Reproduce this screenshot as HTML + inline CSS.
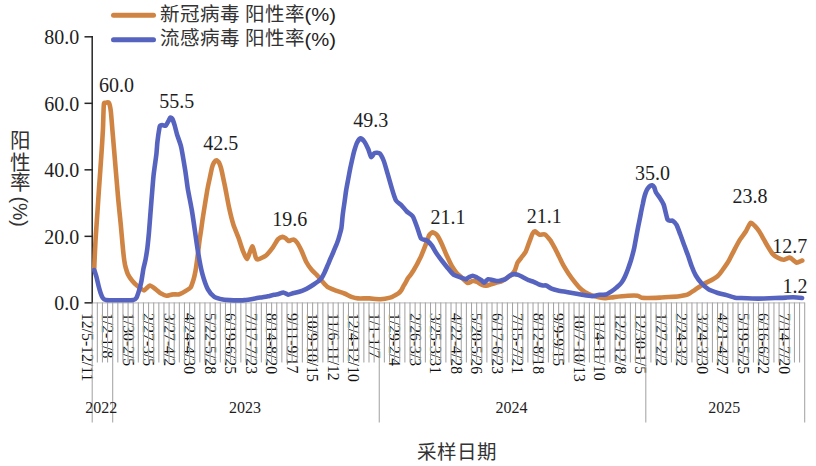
<!DOCTYPE html><html lang="zh-CN"><head><meta charset="utf-8"><style>html,body{margin:0;padding:0;background:#fff;}svg{display:block;} .n{font-family:"Liberation Serif",serif;fill:#1e1e1e;} .x{font-family:"Liberation Serif",serif;fill:#111;} .p{font-family:"Liberation Sans",sans-serif;fill:#1e1e1e;} .c{font-family:"Liberation Sans",sans-serif;fill:#333;}</style></head><body>
<svg width="816" height="466" viewBox="0 0 816 466">
<line x1="92.2" y1="302.8" x2="804.7" y2="302.8" stroke="#c4c4c4" stroke-width="1.3"/>
<g stroke="#262626" stroke-width="1.5" fill="none">
<line x1="92.2" y1="36.1" x2="92.2" y2="303.6"/>
<line x1="84.5" y1="302.85" x2="92.9" y2="302.85"/>
<line x1="84.5" y1="236.34" x2="92.9" y2="236.34"/>
<line x1="84.5" y1="169.83" x2="92.9" y2="169.83"/>
<line x1="84.5" y1="103.32" x2="92.9" y2="103.32"/>
<line x1="84.5" y1="36.81" x2="92.9" y2="36.81"/>
</g>
<text class="n" x="79.2" y="310.25" font-size="20.00" text-anchor="end">0.0</text>
<text class="n" x="79.2" y="243.74" font-size="20.00" text-anchor="end">20.0</text>
<text class="n" x="79.2" y="177.23" font-size="20.00" text-anchor="end">40.0</text>
<text class="n" x="79.2" y="110.72" font-size="20.00" text-anchor="end">60.0</text>
<text class="n" x="79.2" y="44.21" font-size="20.00" text-anchor="end">80.0</text>
<text class="x" font-size="15.70" transform="translate(87.26 313.00) rotate(90)" x="0" y="0" dominant-baseline="central">12/5-12/11</text>
<text class="x" font-size="15.70" transform="translate(107.77 313.00) rotate(90)" x="0" y="0" dominant-baseline="central">1/2-1/8</text>
<text class="x" font-size="15.70" transform="translate(128.27 313.00) rotate(90)" x="0" y="0" dominant-baseline="central">1/30-2/5</text>
<text class="x" font-size="15.70" transform="translate(148.77 313.00) rotate(90)" x="0" y="0" dominant-baseline="central">2/27-3/5</text>
<text class="x" font-size="15.70" transform="translate(169.28 313.00) rotate(90)" x="0" y="0" dominant-baseline="central">3/27-4/2</text>
<text class="x" font-size="15.70" transform="translate(189.78 313.00) rotate(90)" x="0" y="0" dominant-baseline="central">4/24-4/30</text>
<text class="x" font-size="15.70" transform="translate(210.28 313.00) rotate(90)" x="0" y="0" dominant-baseline="central">5/22-5/28</text>
<text class="x" font-size="15.70" transform="translate(230.79 313.00) rotate(90)" x="0" y="0" dominant-baseline="central">6/19-6/25</text>
<text class="x" font-size="15.70" transform="translate(251.29 313.00) rotate(90)" x="0" y="0" dominant-baseline="central">7/17-7/23</text>
<text class="x" font-size="15.70" transform="translate(271.80 313.00) rotate(90)" x="0" y="0" dominant-baseline="central">8/14-8/20</text>
<text class="x" font-size="15.70" transform="translate(292.30 313.00) rotate(90)" x="0" y="0" dominant-baseline="central">9/11-9/17</text>
<text class="x" font-size="15.70" transform="translate(312.80 313.00) rotate(90)" x="0" y="0" dominant-baseline="central">10/9-10/15</text>
<text class="x" font-size="15.70" transform="translate(333.31 313.00) rotate(90)" x="0" y="0" dominant-baseline="central">11/6-11/12</text>
<text class="x" font-size="15.70" transform="translate(353.81 313.00) rotate(90)" x="0" y="0" dominant-baseline="central">12/4-12/10</text>
<text class="x" font-size="15.70" transform="translate(374.31 313.00) rotate(90)" x="0" y="0" dominant-baseline="central">1/1-1/7</text>
<text class="x" font-size="15.70" transform="translate(394.82 313.00) rotate(90)" x="0" y="0" dominant-baseline="central">1/29-2/4</text>
<text class="x" font-size="15.70" transform="translate(415.32 313.00) rotate(90)" x="0" y="0" dominant-baseline="central">2/26-3/3</text>
<text class="x" font-size="15.70" transform="translate(435.82 313.00) rotate(90)" x="0" y="0" dominant-baseline="central">3/25-3/31</text>
<text class="x" font-size="15.70" transform="translate(456.33 313.00) rotate(90)" x="0" y="0" dominant-baseline="central">4/22-4/28</text>
<text class="x" font-size="15.70" transform="translate(476.83 313.00) rotate(90)" x="0" y="0" dominant-baseline="central">5/20-5/26</text>
<text class="x" font-size="15.70" transform="translate(497.33 313.00) rotate(90)" x="0" y="0" dominant-baseline="central">6/17-6/23</text>
<text class="x" font-size="15.70" transform="translate(517.84 313.00) rotate(90)" x="0" y="0" dominant-baseline="central">7/15-7/21</text>
<text class="x" font-size="15.70" transform="translate(538.34 313.00) rotate(90)" x="0" y="0" dominant-baseline="central">8/12-8/18</text>
<text class="x" font-size="15.70" transform="translate(558.85 313.00) rotate(90)" x="0" y="0" dominant-baseline="central">9/9-9/15</text>
<text class="x" font-size="15.70" transform="translate(579.35 313.00) rotate(90)" x="0" y="0" dominant-baseline="central">10/7-10/13</text>
<text class="x" font-size="15.70" transform="translate(599.85 313.00) rotate(90)" x="0" y="0" dominant-baseline="central">11/4-11/10</text>
<text class="x" font-size="15.70" transform="translate(620.36 313.00) rotate(90)" x="0" y="0" dominant-baseline="central">12/2-12/8</text>
<text class="x" font-size="15.70" transform="translate(640.86 313.00) rotate(90)" x="0" y="0" dominant-baseline="central">12/30-1/5</text>
<text class="x" font-size="15.70" transform="translate(661.36 313.00) rotate(90)" x="0" y="0" dominant-baseline="central">1/27-2/2</text>
<text class="x" font-size="15.70" transform="translate(681.87 313.00) rotate(90)" x="0" y="0" dominant-baseline="central">2/24-3/2</text>
<text class="x" font-size="15.70" transform="translate(702.37 313.00) rotate(90)" x="0" y="0" dominant-baseline="central">3/24-3/30</text>
<text class="x" font-size="15.70" transform="translate(722.87 313.00) rotate(90)" x="0" y="0" dominant-baseline="central">4/21-4/27</text>
<text class="x" font-size="15.70" transform="translate(743.38 313.00) rotate(90)" x="0" y="0" dominant-baseline="central">5/19-5/25</text>
<text class="x" font-size="15.70" transform="translate(763.88 313.00) rotate(90)" x="0" y="0" dominant-baseline="central">6/16-6/22</text>
<text class="x" font-size="15.70" transform="translate(784.39 313.00) rotate(90)" x="0" y="0" dominant-baseline="central">7/14-7/20</text>
<g stroke="#a4a4a4" stroke-width="1.05"><line x1="92.20" y1="302.5" x2="92.20" y2="422.5"/><line x1="97.33" y1="302.5" x2="97.33" y2="362.5"/><line x1="102.45" y1="302.5" x2="102.45" y2="362.5"/><line x1="107.58" y1="302.5" x2="107.58" y2="362.5"/><line x1="112.70" y1="302.5" x2="112.70" y2="422.5"/><line x1="117.83" y1="302.5" x2="117.83" y2="362.5"/><line x1="122.96" y1="302.5" x2="122.96" y2="362.5"/><line x1="128.08" y1="302.5" x2="128.08" y2="362.5"/><line x1="133.21" y1="302.5" x2="133.21" y2="362.5"/><line x1="138.33" y1="302.5" x2="138.33" y2="362.5"/><line x1="143.46" y1="302.5" x2="143.46" y2="362.5"/><line x1="148.58" y1="302.5" x2="148.58" y2="362.5"/><line x1="153.71" y1="302.5" x2="153.71" y2="362.5"/><line x1="158.84" y1="302.5" x2="158.84" y2="362.5"/><line x1="163.96" y1="302.5" x2="163.96" y2="362.5"/><line x1="169.09" y1="302.5" x2="169.09" y2="362.5"/><line x1="174.21" y1="302.5" x2="174.21" y2="362.5"/><line x1="179.34" y1="302.5" x2="179.34" y2="362.5"/><line x1="184.47" y1="302.5" x2="184.47" y2="362.5"/><line x1="189.59" y1="302.5" x2="189.59" y2="362.5"/><line x1="194.72" y1="302.5" x2="194.72" y2="362.5"/><line x1="199.84" y1="302.5" x2="199.84" y2="362.5"/><line x1="204.97" y1="302.5" x2="204.97" y2="362.5"/><line x1="210.10" y1="302.5" x2="210.10" y2="362.5"/><line x1="215.22" y1="302.5" x2="215.22" y2="362.5"/><line x1="220.35" y1="302.5" x2="220.35" y2="362.5"/><line x1="225.47" y1="302.5" x2="225.47" y2="362.5"/><line x1="230.60" y1="302.5" x2="230.60" y2="362.5"/><line x1="235.73" y1="302.5" x2="235.73" y2="362.5"/><line x1="240.85" y1="302.5" x2="240.85" y2="362.5"/><line x1="245.98" y1="302.5" x2="245.98" y2="362.5"/><line x1="251.10" y1="302.5" x2="251.10" y2="362.5"/><line x1="256.23" y1="302.5" x2="256.23" y2="362.5"/><line x1="261.35" y1="302.5" x2="261.35" y2="362.5"/><line x1="266.48" y1="302.5" x2="266.48" y2="362.5"/><line x1="271.61" y1="302.5" x2="271.61" y2="362.5"/><line x1="276.73" y1="302.5" x2="276.73" y2="362.5"/><line x1="281.86" y1="302.5" x2="281.86" y2="362.5"/><line x1="286.98" y1="302.5" x2="286.98" y2="362.5"/><line x1="292.11" y1="302.5" x2="292.11" y2="362.5"/><line x1="297.24" y1="302.5" x2="297.24" y2="362.5"/><line x1="302.36" y1="302.5" x2="302.36" y2="362.5"/><line x1="307.49" y1="302.5" x2="307.49" y2="362.5"/><line x1="312.61" y1="302.5" x2="312.61" y2="362.5"/><line x1="317.74" y1="302.5" x2="317.74" y2="362.5"/><line x1="322.87" y1="302.5" x2="322.87" y2="362.5"/><line x1="327.99" y1="302.5" x2="327.99" y2="362.5"/><line x1="333.12" y1="302.5" x2="333.12" y2="362.5"/><line x1="338.24" y1="302.5" x2="338.24" y2="362.5"/><line x1="343.37" y1="302.5" x2="343.37" y2="362.5"/><line x1="348.49" y1="302.5" x2="348.49" y2="362.5"/><line x1="353.62" y1="302.5" x2="353.62" y2="362.5"/><line x1="358.75" y1="302.5" x2="358.75" y2="362.5"/><line x1="363.87" y1="302.5" x2="363.87" y2="362.5"/><line x1="369.00" y1="302.5" x2="369.00" y2="362.5"/><line x1="374.12" y1="302.5" x2="374.12" y2="362.5"/><line x1="379.25" y1="302.5" x2="379.25" y2="422.5"/><line x1="384.38" y1="302.5" x2="384.38" y2="362.5"/><line x1="389.50" y1="302.5" x2="389.50" y2="362.5"/><line x1="394.63" y1="302.5" x2="394.63" y2="362.5"/><line x1="399.75" y1="302.5" x2="399.75" y2="362.5"/><line x1="404.88" y1="302.5" x2="404.88" y2="362.5"/><line x1="410.01" y1="302.5" x2="410.01" y2="362.5"/><line x1="415.13" y1="302.5" x2="415.13" y2="362.5"/><line x1="420.26" y1="302.5" x2="420.26" y2="362.5"/><line x1="425.38" y1="302.5" x2="425.38" y2="362.5"/><line x1="430.51" y1="302.5" x2="430.51" y2="362.5"/><line x1="435.64" y1="302.5" x2="435.64" y2="362.5"/><line x1="440.76" y1="302.5" x2="440.76" y2="362.5"/><line x1="445.89" y1="302.5" x2="445.89" y2="362.5"/><line x1="451.01" y1="302.5" x2="451.01" y2="362.5"/><line x1="456.14" y1="302.5" x2="456.14" y2="362.5"/><line x1="461.26" y1="302.5" x2="461.26" y2="362.5"/><line x1="466.39" y1="302.5" x2="466.39" y2="362.5"/><line x1="471.52" y1="302.5" x2="471.52" y2="362.5"/><line x1="476.64" y1="302.5" x2="476.64" y2="362.5"/><line x1="481.77" y1="302.5" x2="481.77" y2="362.5"/><line x1="486.89" y1="302.5" x2="486.89" y2="362.5"/><line x1="492.02" y1="302.5" x2="492.02" y2="362.5"/><line x1="497.15" y1="302.5" x2="497.15" y2="362.5"/><line x1="502.27" y1="302.5" x2="502.27" y2="362.5"/><line x1="507.40" y1="302.5" x2="507.40" y2="362.5"/><line x1="512.52" y1="302.5" x2="512.52" y2="362.5"/><line x1="517.65" y1="302.5" x2="517.65" y2="362.5"/><line x1="522.78" y1="302.5" x2="522.78" y2="362.5"/><line x1="527.90" y1="302.5" x2="527.90" y2="362.5"/><line x1="533.03" y1="302.5" x2="533.03" y2="362.5"/><line x1="538.15" y1="302.5" x2="538.15" y2="362.5"/><line x1="543.28" y1="302.5" x2="543.28" y2="362.5"/><line x1="548.41" y1="302.5" x2="548.41" y2="362.5"/><line x1="553.53" y1="302.5" x2="553.53" y2="362.5"/><line x1="558.66" y1="302.5" x2="558.66" y2="362.5"/><line x1="563.78" y1="302.5" x2="563.78" y2="362.5"/><line x1="568.91" y1="302.5" x2="568.91" y2="362.5"/><line x1="574.03" y1="302.5" x2="574.03" y2="362.5"/><line x1="579.16" y1="302.5" x2="579.16" y2="362.5"/><line x1="584.29" y1="302.5" x2="584.29" y2="362.5"/><line x1="589.41" y1="302.5" x2="589.41" y2="362.5"/><line x1="594.54" y1="302.5" x2="594.54" y2="362.5"/><line x1="599.66" y1="302.5" x2="599.66" y2="362.5"/><line x1="604.79" y1="302.5" x2="604.79" y2="362.5"/><line x1="609.92" y1="302.5" x2="609.92" y2="362.5"/><line x1="615.04" y1="302.5" x2="615.04" y2="362.5"/><line x1="620.17" y1="302.5" x2="620.17" y2="362.5"/><line x1="625.29" y1="302.5" x2="625.29" y2="362.5"/><line x1="630.42" y1="302.5" x2="630.42" y2="362.5"/><line x1="635.55" y1="302.5" x2="635.55" y2="362.5"/><line x1="640.67" y1="302.5" x2="640.67" y2="362.5"/><line x1="645.80" y1="302.5" x2="645.80" y2="422.5"/><line x1="650.92" y1="302.5" x2="650.92" y2="362.5"/><line x1="656.05" y1="302.5" x2="656.05" y2="362.5"/><line x1="661.17" y1="302.5" x2="661.17" y2="362.5"/><line x1="666.30" y1="302.5" x2="666.30" y2="362.5"/><line x1="671.43" y1="302.5" x2="671.43" y2="362.5"/><line x1="676.55" y1="302.5" x2="676.55" y2="362.5"/><line x1="681.68" y1="302.5" x2="681.68" y2="362.5"/><line x1="686.80" y1="302.5" x2="686.80" y2="362.5"/><line x1="691.93" y1="302.5" x2="691.93" y2="362.5"/><line x1="697.06" y1="302.5" x2="697.06" y2="362.5"/><line x1="702.18" y1="302.5" x2="702.18" y2="362.5"/><line x1="707.31" y1="302.5" x2="707.31" y2="362.5"/><line x1="712.43" y1="302.5" x2="712.43" y2="362.5"/><line x1="717.56" y1="302.5" x2="717.56" y2="362.5"/><line x1="722.69" y1="302.5" x2="722.69" y2="362.5"/><line x1="727.81" y1="302.5" x2="727.81" y2="362.5"/><line x1="732.94" y1="302.5" x2="732.94" y2="362.5"/><line x1="738.06" y1="302.5" x2="738.06" y2="362.5"/><line x1="743.19" y1="302.5" x2="743.19" y2="362.5"/><line x1="748.32" y1="302.5" x2="748.32" y2="362.5"/><line x1="753.44" y1="302.5" x2="753.44" y2="362.5"/><line x1="758.57" y1="302.5" x2="758.57" y2="362.5"/><line x1="763.69" y1="302.5" x2="763.69" y2="362.5"/><line x1="768.82" y1="302.5" x2="768.82" y2="362.5"/><line x1="773.94" y1="302.5" x2="773.94" y2="362.5"/><line x1="779.07" y1="302.5" x2="779.07" y2="362.5"/><line x1="784.20" y1="302.5" x2="784.20" y2="362.5"/><line x1="789.32" y1="302.5" x2="789.32" y2="362.5"/><line x1="794.45" y1="302.5" x2="794.45" y2="362.5"/><line x1="799.57" y1="302.5" x2="799.57" y2="362.5"/><line x1="804.70" y1="302.5" x2="804.70" y2="422.5"/></g>
<text class="n" x="101.35" y="412.5" font-size="16.00" text-anchor="middle">2022</text>
<text class="n" x="244.88" y="412.5" font-size="16.00" text-anchor="middle">2023</text>
<text class="n" x="511.42" y="412.5" font-size="16.00" text-anchor="middle">2024</text>
<text class="n" x="724.15" y="412.5" font-size="16.00" text-anchor="middle">2025</text>
<path d="M94.3 268.0 C94.3 266.7 94.7 257.3 94.8 255.0 C94.9 252.7 95.2 247.5 95.3 245.0 C95.4 242.5 95.8 235.5 96.2 230.0 C96.6 224.5 98.4 198.0 98.9 190.0 C99.5 182.0 101.3 156.0 101.7 150.0 C102.1 144.0 102.7 133.8 102.9 130.0 C103.1 126.2 103.4 114.7 103.5 112.0 C103.6 109.3 103.7 104.3 104.0 103.4 C104.3 102.5 106.0 102.6 106.5 102.6 C107.0 102.5 108.6 102.0 109.0 102.9 C109.4 103.8 110.6 109.3 110.9 112.0 C111.2 114.7 112.1 126.2 112.4 130.0 C112.7 133.8 113.5 143.0 114.1 150.0 C114.7 157.0 117.6 192.5 118.3 200.0 C119.0 207.5 120.4 220.5 120.8 225.0 C121.2 229.5 122.3 241.5 122.6 245.0 C122.9 248.5 123.9 257.7 124.2 260.0 C124.5 262.3 125.4 266.6 125.8 268.0 C126.2 269.4 127.3 273.0 127.9 274.3 C128.5 275.6 131.2 279.5 132.2 280.7 C133.2 281.9 136.3 285.1 137.5 286.1 C138.7 287.1 142.8 290.5 144.0 290.4 C145.2 290.3 148.7 285.6 149.9 285.5 C151.1 285.4 154.7 288.5 155.8 289.3 C156.9 290.1 160.0 293.0 161.1 293.6 C162.2 294.2 165.3 295.7 166.5 295.8 C167.7 295.9 171.6 294.5 172.9 294.4 C174.2 294.2 178.0 294.7 179.3 294.3 C180.6 293.9 184.7 291.6 185.8 290.9 C186.9 290.2 189.8 288.6 190.6 287.5 C191.4 286.4 192.9 281.6 193.4 280.0 C193.9 278.4 195.1 273.1 195.5 271.0 C195.9 268.9 196.8 262.3 197.2 259.4 C197.6 256.5 198.9 245.4 199.3 242.2 C199.7 239.0 201.1 230.3 201.5 227.2 C201.9 224.1 203.2 215.2 203.8 211.5 C204.4 207.8 206.7 193.3 207.3 190.0 C207.9 186.7 209.3 180.2 209.8 178.0 C210.3 175.8 211.5 169.6 211.9 168.0 C212.3 166.4 213.5 163.3 214.0 162.5 C214.5 161.7 216.0 160.4 216.5 160.4 C217.0 160.4 218.6 161.7 219.0 162.5 C219.4 163.3 220.6 166.6 221.0 168.0 C221.4 169.4 222.6 175.0 223.0 177.0 C223.4 179.0 224.7 185.0 225.3 188.0 C225.9 191.0 228.2 203.6 229.0 207.3 C229.8 211.0 232.5 221.9 233.5 225.0 C234.5 228.1 237.7 235.3 238.6 237.9 C239.5 240.5 242.0 248.7 242.9 250.8 C243.8 252.9 246.3 259.3 247.2 258.9 C248.1 258.5 251.4 246.5 252.3 246.4 C253.2 246.3 255.2 256.3 255.8 257.6 C256.4 258.9 257.3 259.5 258.3 259.3 C259.3 259.1 264.5 256.7 266.0 255.5 C267.5 254.3 271.7 248.9 272.9 247.3 C274.1 245.7 277.1 240.2 278.1 239.2 C279.1 238.2 281.9 237.0 282.6 236.9 C283.3 236.8 284.9 237.8 285.5 238.2 C286.1 238.6 288.0 240.8 288.6 241.0 C289.2 241.2 291.0 240.1 291.5 240.0 C292.0 239.9 293.4 239.4 294.0 239.7 C294.6 239.9 296.2 241.4 297.0 242.5 C297.8 243.6 300.6 248.8 301.5 250.7 C302.4 252.6 305.3 260.1 306.3 262.0 C307.3 263.9 310.7 268.7 311.8 270.0 C312.9 271.3 316.1 274.2 317.2 275.4 C318.3 276.6 321.5 280.6 322.6 281.8 C323.7 283.0 326.6 286.3 327.9 287.2 C329.2 288.1 333.6 289.7 335.2 290.3 C336.8 290.9 342.8 292.9 344.4 293.5 C346.0 294.1 350.0 296.3 351.4 296.8 C352.8 297.3 356.1 298.2 357.9 298.4 C359.7 298.6 366.9 298.3 369.2 298.4 C371.4 298.5 378.3 299.3 380.4 299.2 C382.5 299.1 388.6 298.0 390.1 297.6 C391.6 297.2 394.2 295.7 395.0 295.3 C395.8 294.9 397.5 294.1 398.1 293.6 C398.8 293.1 401.0 290.8 401.5 290.0 C402.0 289.2 403.1 286.8 403.5 286.0 C403.9 285.2 405.4 283.1 405.8 282.3 C406.2 281.5 407.4 279.0 407.8 278.3 C408.2 277.6 409.8 275.9 410.3 275.3 C410.8 274.7 412.0 272.8 412.6 271.9 C413.2 270.9 415.4 267.4 416.2 265.8 C417.0 264.2 420.1 258.5 421.0 256.4 C421.9 254.3 424.9 246.7 425.7 244.6 C426.5 242.5 428.5 236.3 429.2 235.1 C429.9 233.9 432.0 232.3 432.8 232.3 C433.6 232.3 436.4 234.3 437.3 235.5 C438.2 236.7 441.0 242.3 441.9 244.3 C442.8 246.3 445.7 253.4 446.7 255.5 C447.7 257.6 450.5 263.8 451.5 265.5 C452.5 267.2 455.3 271.5 456.4 272.8 C457.5 274.1 461.7 277.5 462.8 278.5 C463.9 279.5 466.8 282.8 467.8 283.0 C468.8 283.2 471.8 281.1 472.7 281.0 C473.6 280.9 476.1 281.4 477.0 281.8 C477.9 282.2 481.2 284.5 482.2 284.9 C483.1 285.3 485.6 285.7 486.5 285.6 C487.4 285.6 489.9 284.7 490.8 284.4 C491.7 284.1 494.9 283.0 495.9 282.7 C496.9 282.4 500.0 281.9 501.0 281.5 C502.0 281.1 505.2 279.1 506.2 278.4 C507.2 277.7 510.5 275.7 511.4 274.9 C512.3 274.1 514.2 271.8 514.8 270.6 C515.4 269.4 516.8 264.2 517.4 262.9 C518.0 261.6 520.4 258.9 521.2 257.8 C522.0 256.7 525.0 253.1 525.8 251.5 C526.6 249.9 528.5 244.1 529.2 242.3 C529.9 240.5 532.0 234.6 532.6 233.5 C533.2 232.4 534.3 231.2 535.0 231.3 C535.7 231.4 538.7 234.5 539.7 234.8 C540.7 235.1 543.9 233.8 545.0 234.4 C546.1 235.0 549.4 239.1 550.4 240.4 C551.4 241.8 553.8 246.3 554.7 247.9 C555.6 249.5 558.1 254.8 559.0 256.5 C559.9 258.2 562.3 263.4 563.3 265.1 C564.3 266.8 567.5 272.1 568.6 273.7 C569.7 275.3 572.9 279.8 574.0 281.2 C575.1 282.6 578.3 286.5 579.4 287.6 C580.5 288.7 583.5 291.1 584.7 291.9 C585.9 292.6 589.8 294.6 591.2 295.1 C592.6 295.6 597.3 297.0 598.7 297.3 C600.1 297.6 603.6 298.3 605.1 298.3 C606.6 298.3 611.6 297.4 613.9 297.1 C616.2 296.8 625.5 295.8 627.9 295.7 C630.3 295.6 636.2 295.5 637.6 295.7 C639.0 295.9 640.7 297.6 641.8 297.8 C642.9 298.0 647.0 298.0 648.8 298.0 C650.6 298.0 657.9 297.7 659.9 297.6 C661.9 297.5 666.7 297.1 668.6 297.0 C670.5 296.9 677.4 296.5 679.3 296.2 C681.2 295.9 686.4 294.9 687.9 294.3 C689.4 293.7 692.8 291.3 694.3 290.3 C695.8 289.3 701.2 285.4 702.9 284.4 C704.6 283.4 710.0 280.9 711.5 280.1 C713.0 279.3 716.4 277.3 717.5 276.3 C718.6 275.3 721.1 272.1 722.2 270.5 C723.3 268.9 727.5 262.9 728.7 260.8 C729.9 258.7 733.4 251.7 734.5 249.6 C735.6 247.5 739.0 241.2 740.1 239.4 C741.2 237.6 744.8 233.2 745.8 231.5 C746.8 229.8 749.6 223.4 750.5 222.8 C751.4 222.2 753.9 225.0 754.8 225.9 C755.7 226.8 758.4 230.2 759.3 231.5 C760.2 232.8 762.9 237.8 763.8 239.4 C764.7 241.0 767.4 245.8 768.3 247.3 C769.2 248.8 771.8 253.0 772.8 254.1 C773.8 255.2 777.3 257.5 778.4 258.1 C779.5 258.7 783.0 259.8 784.1 259.7 C785.2 259.6 788.9 257.6 789.7 257.5 C790.5 257.4 791.3 258.5 792.0 259.0 C792.7 259.5 795.6 262.5 796.6 262.6 C797.6 262.8 801.7 260.7 802.3 260.5" fill="none" stroke="#cf8443" stroke-width="4.6" stroke-linejoin="round" stroke-linecap="round"/>
<path d="M94.3 270.0 C94.5 270.7 96.1 275.4 96.5 277.0 C96.9 278.6 98.2 284.4 98.6 286.0 C99.0 287.6 100.2 291.8 100.6 293.0 C101.0 294.2 102.3 297.3 102.8 298.0 C103.3 298.7 104.8 299.8 106.0 300.0 C107.2 300.2 113.1 300.3 115.0 300.3 C116.9 300.3 123.2 300.3 125.0 300.3 C126.8 300.3 132.1 300.2 133.2 300.0 C134.3 299.8 135.8 298.9 136.4 297.9 C137.0 296.9 138.6 292.0 139.1 290.4 C139.6 288.8 140.9 283.9 141.3 281.8 C141.7 279.7 143.0 271.1 143.4 268.9 C143.8 266.6 145.2 261.5 145.6 259.3 C146.0 257.1 147.2 249.7 147.5 247.0 C147.8 244.3 148.6 236.7 149.0 232.0 C149.4 227.3 151.0 205.7 151.5 200.0 C152.0 194.3 153.1 179.5 153.6 175.0 C154.1 170.5 155.9 158.2 156.3 155.0 C156.7 151.8 157.1 145.0 157.3 143.0 C157.5 141.0 158.1 136.7 158.3 135.0 C158.6 133.3 159.4 127.3 159.8 126.3 C160.2 125.3 161.6 125.0 162.2 125.0 C162.8 125.0 165.0 126.1 165.6 125.8 C166.2 125.5 167.7 122.3 168.2 121.5 C168.7 120.7 169.9 117.7 170.3 117.5 C170.7 117.3 172.1 118.3 172.5 119.1 C172.9 119.9 174.1 123.5 174.6 125.1 C175.1 126.7 176.5 132.8 177.2 135.0 C177.9 137.2 180.4 143.6 181.2 147.2 C182.0 150.8 184.6 166.5 185.3 170.8 C186.0 175.1 187.3 186.1 188.0 190.0 C188.7 193.9 191.1 205.8 191.8 210.0 C192.5 214.2 194.4 227.2 195.0 231.5 C195.6 235.8 197.4 248.6 198.2 252.9 C198.9 257.2 201.5 270.8 202.5 274.4 C203.5 278.0 206.7 287.1 207.9 289.4 C209.1 291.6 212.8 295.9 214.3 296.9 C215.8 297.9 221.0 299.2 222.9 299.6 C224.8 300.0 231.4 300.3 233.6 300.4 C235.8 300.4 242.3 300.3 244.4 300.1 C246.5 299.9 253.3 298.7 255.0 298.4 C256.7 298.1 260.1 297.6 261.4 297.4 C262.7 297.2 266.6 296.6 267.9 296.3 C269.2 296.0 273.2 294.9 274.3 294.7 C275.4 294.5 277.7 294.3 278.6 294.1 C279.5 293.9 282.4 292.4 283.4 292.5 C284.4 292.6 287.2 294.6 288.2 294.7 C289.2 294.8 292.4 293.4 293.6 293.1 C294.8 292.8 298.7 291.9 300.0 291.5 C301.3 291.1 305.2 289.4 306.5 288.8 C307.8 288.2 311.7 285.8 312.9 285.0 C314.1 284.2 317.4 282.0 318.3 281.3 C319.2 280.6 320.9 279.0 321.5 278.1 C322.1 277.2 324.1 273.5 324.7 272.2 C325.3 270.9 327.3 266.1 327.9 264.7 C328.5 263.3 330.0 259.6 330.6 258.3 C331.2 257.0 333.0 252.8 333.6 251.3 C334.2 249.8 336.3 245.0 336.9 243.5 C337.5 242.0 338.8 238.1 339.2 236.5 C339.6 234.9 341.0 230.2 341.4 228.0 C341.8 225.8 342.4 217.5 342.7 215.0 C343.0 212.5 344.0 205.5 344.4 203.0 C344.8 200.5 345.8 192.4 346.2 190.0 C346.6 187.6 347.9 180.8 348.3 178.6 C348.7 176.4 349.9 170.0 350.3 168.0 C350.7 166.0 351.9 160.8 352.3 159.0 C352.7 157.2 354.0 151.6 354.5 150.0 C355.0 148.4 356.4 144.0 357.0 142.8 C357.6 141.6 359.8 138.4 360.5 138.3 C361.2 138.2 363.5 140.4 364.3 141.5 C365.1 142.6 367.5 147.4 368.2 149.0 C368.9 150.6 370.5 156.8 371.1 157.2 C371.7 157.6 373.6 153.4 374.5 153.0 C375.4 152.6 378.9 152.7 379.8 153.5 C380.7 154.3 383.0 159.0 383.8 161.0 C384.6 163.0 386.8 171.0 387.6 173.7 C388.4 176.4 390.8 184.9 391.6 187.6 C392.4 190.3 395.0 198.7 396.0 200.5 C397.0 202.3 400.4 204.2 401.5 205.3 C402.6 206.4 405.7 210.4 406.8 211.5 C407.9 212.6 411.6 214.5 412.7 216.2 C413.8 217.8 416.6 225.8 417.4 228.0 C418.2 230.2 420.1 237.2 421.0 238.5 C421.9 239.8 425.8 239.8 426.9 240.5 C428.0 241.2 430.8 244.2 431.8 245.5 C432.8 246.8 435.5 251.9 436.6 253.5 C437.7 255.1 441.3 260.0 442.5 261.5 C443.7 263.0 447.1 267.3 448.2 268.6 C449.3 269.9 452.2 273.7 453.5 274.6 C454.8 275.5 459.9 277.1 461.1 277.6 C462.4 278.1 465.3 279.2 466.0 279.2 C466.7 279.2 467.7 277.8 468.4 277.5 C469.1 277.2 471.8 275.8 472.7 275.8 C473.6 275.8 476.1 277.1 477.0 277.5 C477.9 277.9 480.6 279.6 481.3 280.1 C482.0 280.6 483.2 282.8 483.9 282.7 C484.6 282.6 487.3 279.5 488.2 279.2 C489.1 278.9 491.6 279.9 492.5 280.1 C493.4 280.3 495.9 281.0 496.8 281.0 C497.7 281.0 500.1 280.6 501.0 280.4 C501.9 280.2 504.4 279.7 505.3 279.2 C506.2 278.7 508.7 276.3 509.6 275.8 C510.5 275.3 513.0 274.2 513.9 274.1 C514.8 274.0 517.2 274.6 518.2 274.9 C519.2 275.2 522.4 277.0 523.4 277.5 C524.4 278.0 527.5 279.7 528.5 280.1 C529.5 280.5 532.7 281.4 533.7 281.8 C534.7 282.2 537.9 284.0 538.8 284.4 C539.7 284.8 542.2 285.4 542.9 285.5 C543.6 285.6 545.2 285.2 546.1 285.5 C547.0 285.8 550.3 288.2 551.5 288.7 C552.7 289.2 556.4 290.1 557.9 290.4 C559.4 290.7 564.8 291.6 566.5 291.9 C568.2 292.2 573.4 293.1 575.1 293.4 C576.8 293.7 581.9 294.8 583.6 295.1 C585.3 295.4 590.6 296.2 592.2 296.2 C593.8 296.2 598.0 295.0 599.3 294.8 C600.6 294.6 604.4 294.9 605.6 294.6 C606.8 294.3 610.0 292.3 611.1 291.6 C612.2 290.9 615.7 288.3 616.7 287.4 C617.8 286.5 620.8 283.6 621.6 282.5 C622.4 281.4 624.5 277.5 625.1 276.2 C625.7 274.9 627.3 271.0 627.9 269.3 C628.5 267.6 630.6 261.6 631.2 259.5 C631.8 257.4 633.7 250.4 634.2 248.0 C634.7 245.6 636.1 237.7 636.6 235.0 C637.1 232.3 638.8 223.5 639.3 221.2 C639.8 218.9 640.8 213.7 641.1 212.0 C641.5 210.3 642.4 205.6 642.8 204.0 C643.1 202.4 644.2 197.4 644.6 196.0 C645.0 194.6 646.3 191.0 646.8 190.0 C647.3 189.0 649.0 186.8 649.5 186.3 C650.0 185.8 651.7 185.2 652.2 185.3 C652.7 185.4 653.9 186.8 654.3 187.5 C654.7 188.2 655.4 191.4 656.0 192.5 C656.6 193.6 659.1 196.8 659.9 198.0 C660.7 199.2 663.0 203.1 663.6 204.5 C664.2 205.9 665.2 210.7 665.6 212.2 C666.0 213.7 667.1 218.7 667.6 219.6 C668.1 220.5 670.0 220.7 670.5 220.8 C671.0 220.9 672.2 220.4 672.8 220.8 C673.4 221.2 675.9 223.6 676.6 225.0 C677.4 226.4 679.5 232.4 680.3 234.5 C681.1 236.6 683.6 243.6 684.4 245.8 C685.2 248.0 687.7 254.5 688.4 256.5 C689.1 258.5 690.9 264.1 691.6 266.0 C692.3 267.9 694.8 273.8 695.8 275.5 C696.8 277.2 700.2 281.9 701.5 283.3 C702.8 284.7 707.0 288.4 708.6 289.4 C710.2 290.4 716.1 292.4 717.9 293.0 C719.7 293.6 724.8 294.6 726.5 295.1 C728.2 295.6 733.6 297.4 735.1 297.7 C736.6 298.0 739.6 297.9 741.3 298.0 C743.0 298.1 750.2 298.4 752.5 298.5 C754.8 298.6 761.5 298.6 763.8 298.5 C766.1 298.4 772.9 298.1 775.1 298.0 C777.4 297.9 784.5 297.7 786.3 297.6 C788.1 297.5 791.5 297.3 793.1 297.3 C794.7 297.3 801.2 297.9 802.1 298.0" fill="none" stroke="#5664bf" stroke-width="4.6" stroke-linejoin="round" stroke-linecap="round"/>
<text class="n" x="116.50" y="91.55" font-size="20.00" text-anchor="middle">60.0</text>
<text class="n" x="176.75" y="108.00" font-size="20.00" text-anchor="middle">55.5</text>
<text class="n" x="220.70" y="150.10" font-size="20.00" text-anchor="middle">42.5</text>
<text class="n" x="289.80" y="226.40" font-size="20.00" text-anchor="middle">19.6</text>
<text class="n" x="370.65" y="126.55" font-size="20.00" text-anchor="middle">49.3</text>
<text class="n" x="448.00" y="223.60" font-size="20.00" text-anchor="middle">21.1</text>
<text class="n" x="544.20" y="222.55" font-size="20.00" text-anchor="middle">21.1</text>
<text class="n" x="652.55" y="179.80" font-size="20.00" text-anchor="middle">35.0</text>
<text class="n" x="749.90" y="203.10" font-size="20.00" text-anchor="middle">23.8</text>
<text class="n" x="789.80" y="252.95" font-size="20.00" text-anchor="middle">12.7</text>
<text class="n" x="794.90" y="292.90" font-size="20.00" text-anchor="middle">1.2</text>
<line x1="113.5" y1="15.2" x2="153.5" y2="15.2" stroke="#cf8443" stroke-width="5" stroke-linecap="round"/>
<line x1="113.5" y1="39.8" x2="153.5" y2="39.8" stroke="#5664bf" stroke-width="5" stroke-linecap="round"/>
<text class="c" x="160" y="20.9" font-size="19.50">新冠病毒 阳性率</text>
<text class="c" x="160" y="45.2" font-size="19.50">流感病毒 阳性率</text>
<text class="p" x="304.60" y="21.40" font-size="17.50" textLength="31.50" lengthAdjust="spacingAndGlyphs">(%)</text>
<text class="p" x="304.60" y="45.70" font-size="17.50" textLength="31.50" lengthAdjust="spacingAndGlyphs">(%)</text>
<text class="c" x="457" y="459" font-size="19.5" text-anchor="middle">采样日期</text>
<text class="c" x="20" y="140.80" font-size="20.5" text-anchor="middle" dominant-baseline="central">阳</text>
<text class="c" x="20" y="162.25" font-size="20.5" text-anchor="middle" dominant-baseline="central">性</text>
<text class="c" x="20" y="182.15" font-size="20.5" text-anchor="middle" dominant-baseline="central">率</text>
<text class="c" font-size="19.5" transform="translate(19.5 196.5) rotate(90)" x="0" y="0" dominant-baseline="central">(%)</text>
</svg></body></html>
